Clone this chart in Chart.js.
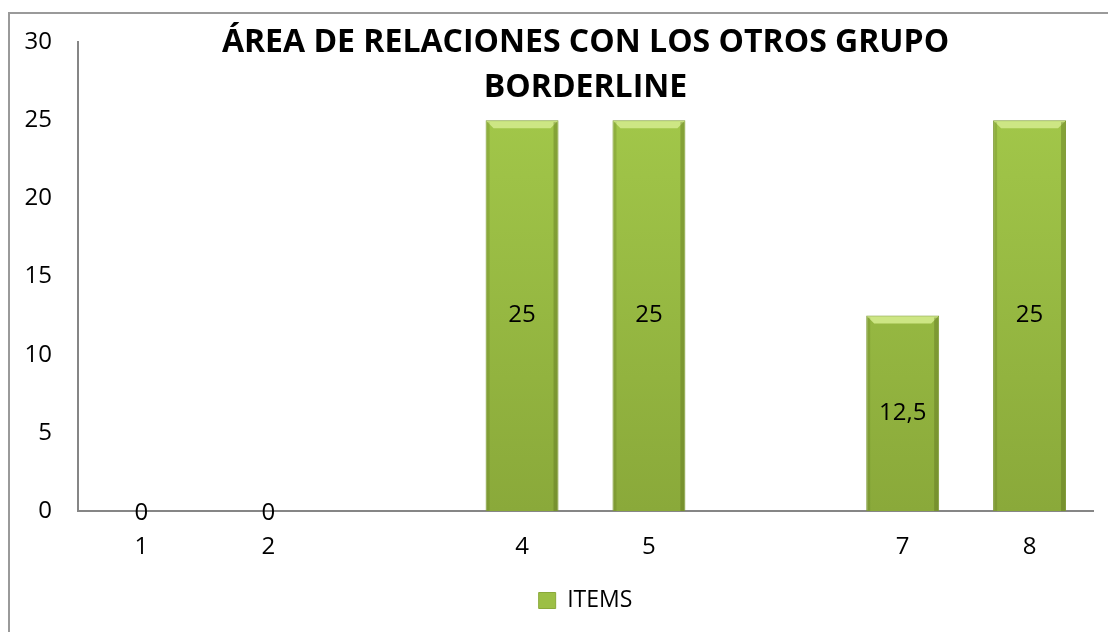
<!DOCTYPE html>
<html>
<head>
<meta charset="utf-8">
<script src="https://cdn.jsdelivr.net/npm/chart.js@4/dist/chart.umd.min.js"></script>
<style>
    html, body { margin: 0; padding: 0; background: #fff; overflow: hidden; }
    #frame { position: absolute; left: 8px; top: 12px; width: 1200px; height: 700px; border: 2px solid #9a9a9a; box-sizing: border-box; }
    #wrap { position: absolute; left: 0; top: 0; width: 1108px; height: 632px; }
</style>
</head>
<body>
<div id="frame"></div>
<div id="wrap"><canvas id="barChart"></canvas></div>
<script>
const categories = ['1', '2', '', '4', '5', '', '7', '8'];
const itemValues = [0, 0, null, 25, 25, null, 12.5, 25];
const yTicks = [0, 5, 10, 15, 20, 25, 30];
const titleLines = ['ÁREA DE RELACIONES CON LOS OTROS GRUPO', 'BORDERLINE'];

const FONT = "'Open Sans', sans-serif";

// bar fill: vertical gradient, light top to darker base
function barFill(context) {
    const chart = context.chart;
    const area = chart.chartArea;
    if (!area) return '#9cbf45';
    const g = chart.ctx.createLinearGradient(0, area.top, 0, area.bottom);
    g.addColorStop(0, '#a6cc4c');
    g.addColorStop(1, '#8aa93a');
    return g;
}

// title drawn over the top of the plot, like the original
const titlePlugin = {
    id: 'overTitle',
    afterDraw(chart) {
        const { ctx, chartArea } = chart;
        const cx = (chartArea.left + chartArea.right) / 2;
        ctx.save();
        ctx.fillStyle = '#000';
        ctx.font = 'bold 32px ' + FONT;
        ctx.textAlign = 'center';
        ctx.textBaseline = 'middle';
        ctx.fillText(titleLines[0], cx, 43);
        ctx.fillText(titleLines[1], cx, 88);
        ctx.restore();
    }
};

// bevel highlight + value labels
const barLabels = {
    id: 'barLabels',
    afterDatasetsDraw(chart) {
        const { ctx } = chart;
        const meta = chart.getDatasetMeta(0);
        ctx.save();
        meta.data.forEach((bar, i) => {
            const v = itemValues[i];
            if (v === null) return;
            const half = bar.width / 2;
            if (v > 0) {
                // top bevel
                ctx.fillStyle = '#cde684';
                ctx.beginPath();
                ctx.moveTo(bar.x - half + 1, bar.y + 1);
                ctx.lineTo(bar.x + half - 1, bar.y + 1);
                ctx.lineTo(bar.x + half - 8, bar.y + 8);
                ctx.lineTo(bar.x - half + 8, bar.y + 8);
                ctx.closePath();
                ctx.fill();
                // side shading
                ctx.fillStyle = 'rgba(90,110,30,0.4)';
                ctx.fillRect(bar.x + half - 5, bar.y + 2, 4, bar.base - bar.y - 2);
                ctx.fillStyle = 'rgba(90,110,30,0.25)';
                ctx.fillRect(bar.x - half + 1, bar.y + 2, 3, bar.base - bar.y - 2);
            }
            ctx.fillStyle = '#000';
            ctx.font = '24px ' + FONT;
            ctx.textAlign = 'center';
            ctx.textBaseline = 'middle';
            const y = v > 0 ? (bar.y + bar.base) / 2 : bar.base + 2;
            ctx.fillText(String(v).replace('.', ','), bar.x, y);
        });
        ctx.restore();
    }
};

new Chart(document.getElementById('barChart'), {
    type: 'bar',
    data: {
        labels: categories,
        datasets: [{
            label: 'ITEMS',
            data: itemValues,
            backgroundColor: barFill,
            borderColor: '#7d9a33',
            borderWidth: 1,
            categoryPercentage: 1,
            barPercentage: 0.575
        }]
    },
    options: {
        responsive: true,
        maintainAspectRatio: false,
        animation: false,
        layout: { padding: { top: 42, right: 15, bottom: 10, left: 0 } },
        plugins: {
            title: { display: false },
            tooltip: { enabled: false },
            legend: {
                position: 'bottom',
                fullSize: false,
                labels: {
                    color: '#000',
                    font: { family: FONT, size: 23 },
                    boxWidth: 17,
                    boxHeight: 16,
                    padding: 8,
                    generateLabels(chart) {
                        return [{
                            text: 'ITEMS',
                            fillStyle: '#9cbf45',
                            strokeStyle: '#8aa93a',
                            lineWidth: 1,
                            datasetIndex: 0
                        }];
                    }
                }
            }
        },
        scales: {
            x: {
                grid: { display: false, drawTicks: false },
                border: { color: '#868686', width: 2 },
                ticks: { color: '#000', font: { family: FONT, size: 24 }, padding: 22 },
                afterFit(scale) { scale.height = 70; }
            },
            y: {
                min: 0,
                max: 30,
                grid: { display: false, drawTicks: false },
                border: { color: '#868686', width: 2 },
                afterBuildTicks(scale) { scale.ticks = yTicks.map(v => ({ value: v })); },
                ticks: { color: '#000', font: { family: FONT, size: 24 }, padding: 26 },
                afterFit(scale) { scale.width = 78; }
            }
        }
    },
    plugins: [titlePlugin, barLabels]
});
</script>
</body>
</html>
